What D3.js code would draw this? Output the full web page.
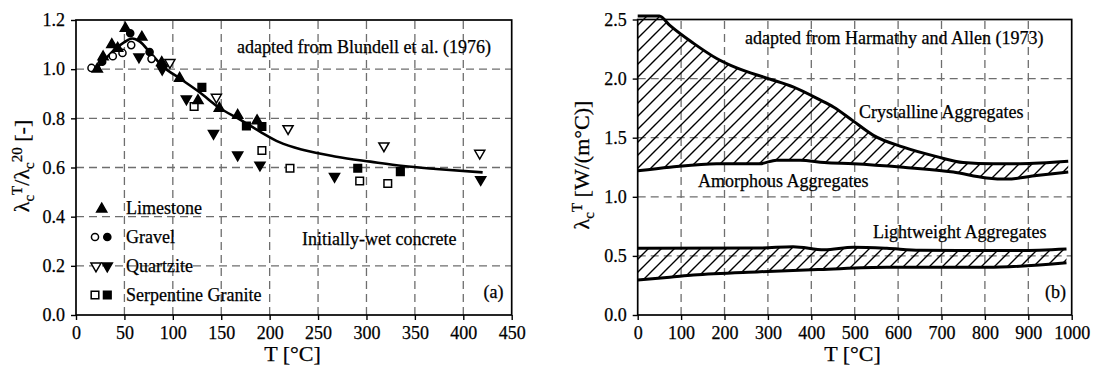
<!DOCTYPE html>
<html><head><meta charset="utf-8">
<script src="https://cdn.jsdelivr.net/npm/d3@7"></script>
<style>
body{margin:0;background:#fff}
svg{display:block;background:#fff}
text{font-family:"Liberation Serif","Times New Roman",serif;fill:#000;stroke:#000;stroke-width:0.25px}
</style></head>
<body><svg id="c" width="1094" height="367"></svg>
<script>
// ---------- Panel (a) data: [T (°C), λcT/λc20] ----------
const limestone = [[22,1.00],[28,1.05],[37,1.10],[43,1.085],[51,1.166],[68,1.13],[88.5,1.027],[107,0.963],[126,0.872],[148,0.841],[167,0.812],[187,0.79]];
const gravelOpen = [[16,1.005],[38,1.053],[48,1.066],[57,1.098],[78,1.042]];
const gravelFilled = [[27,1.03],[56,1.146],[76,1.07]];
const quartziteOpen = [[97,1.027],[145,0.886],[219,0.758],[318,0.688],[417,0.658]];
const quartziteFilled = [[65,1.05],[89,1.0],[114,0.879],[142,0.739],[167,0.651],[190,0.61],[267,0.564],[418,0.551]];
const serpOpen = [[122,0.848],[192,0.669],[221,0.597],[293,0.545],[322,0.535]];
const serpFilled = [[130,0.926],[176,0.769],[192,0.767],[291,0.597],[335,0.583]];
const fitCurve = [[20,1.0],[30,1.04],[40,1.08],[50,1.11],[58,1.125],[66,1.112],[76,1.07],[90,1.01],[107,0.963],[128,0.905],[148,0.843],[169,0.796],[190,0.746],[210,0.703],[235,0.671],[269,0.644],[304,0.624],[338,0.606],[372,0.594],[420,0.58]];
const xTicksA = [0,50,100,150,200,250,300,350,400,450];
const yTicksA = [0.0,0.2,0.4,0.6,0.8,1.0,1.2];
const legendNames = ["Limestone","Gravel","Quartzite","Serpentine Granite"];

// ---------- Panel (b) data: [T (°C), λcT W/(m°C)] ----------
const crystTop = [[0,2.53],[50,2.53],[74,2.45],[128,2.30],[182,2.17],[228,2.09],[301,2.00],[358,1.93],[420,1.82],[451,1.76],[497,1.64],[543,1.52],[612,1.42],[689,1.34],[750,1.29],[819,1.28],[881,1.28],[992,1.30]];
const crystBottom = [[0,1.22],[74,1.25],[182,1.28],[282,1.28],[320,1.31],[374,1.31],[430,1.29],[497,1.28],[612,1.25],[727,1.21],[804,1.16],[850,1.15],[919,1.18],[992,1.21]];
const lightTop = [[0,0.564],[282,0.567],[358,0.578],[430,0.552],[497,0.573],[574,0.564],[650,0.547],[880,0.545],[988,0.558]];
const lightBottom = [[0,0.296],[74,0.319],[128,0.338],[282,0.366],[420,0.385],[574,0.403],[804,0.403],[988,0.442]];
const xTicksB = [0,100,200,300,400,500,600,700,800,900,1000];
const yTicksB = [0.0,0.5,1.0,1.5,2.0,2.5];

const svg = d3.select("#c");
const defs = svg.append("defs");
defs.append("pattern").attr("id","hatch").attr("patternUnits","userSpaceOnUse")
  .attr("width",13).attr("height",13)
  .append("path").attr("d","M-3,3L3,-3M0,13L13,0M10,16L16,10")
  .attr("stroke","#000").attr("stroke-width",1.4).attr("fill","none");

function grid(g, x, y, xt, yt){
  const [x0,x1] = x.domain(), [y0,y1] = y.domain();
  xt.filter(v=>v>x0 && v<x1).forEach(v=>{
    g.append("line").attr("x1",x(v)).attr("x2",x(v)).attr("y1",y(y0)).attr("y2",y(y1))
     .attr("stroke","#6e6e6e").attr("stroke-width",1.3).attr("stroke-dasharray","8,5");
  });
  yt.filter(v=>v>y0 && v<y1).forEach(v=>{
    g.append("line").attr("y1",y(v)).attr("y2",y(v)).attr("x1",x(x0)).attr("x2",x(x1))
     .attr("stroke","#6e6e6e").attr("stroke-width",1.3).attr("stroke-dasharray","8,5");
  });
}
function axes(g, x, y, xt, yt, xMinor, yMinor, xfmt, yfmt){
  const [y0] = y.domain(), [x0] = x.domain();
  const bx = g.append("g").attr("transform",`translate(0,${y(y0)})`);
  bx.call(d3.axisBottom(x).tickValues(xMinor).tickSize(3).tickFormat(""));
  bx.call(d3.axisBottom(x).tickValues(xt).tickSize(5).tickPadding(6).tickFormat(xfmt));
  const ly = g.append("g").attr("transform",`translate(${x(x0)},0)`);
  ly.call(d3.axisLeft(y).tickValues(yMinor).tickSize(3).tickFormat(""));
  ly.call(d3.axisLeft(y).tickValues(yt).tickSize(5).tickPadding(6).tickFormat(yfmt));
  g.selectAll(".domain").remove();
  g.selectAll(".tick line").attr("stroke","#000").attr("stroke-width",1.4);
  g.selectAll(".tick text").style("font-size","18px").style("font-family","Liberation Serif");
}
function frame(g, x, y){
  const [x0,x1]=x.domain(), [y0,y1]=y.domain();
  g.append("rect").attr("x",x(x0)).attr("y",y(y1)).attr("width",x(x1)-x(x0)).attr("height",y(y0)-y(y1))
   .attr("fill","none").attr("stroke","#000").attr("stroke-width",1.7);
}
function txt(g, s, x, y, size, anchor){
  return g.append("text").attr("x",x).attr("y",y).style("font-size",size+"px").attr("text-anchor",anchor||"start").text(s);
}

// ================= Panel (a) =================
const xa = d3.scaleLinear().domain([0,450]).range([76,511.7]);
const ya = d3.scaleLinear().domain([0,1.2]).range([315,20]);
const ga = svg.append("g");
grid(ga, xa, ya, xTicksA, yTicksA);
axes(ga, xa, ya, xTicksA, yTicksA, d3.range(0,451,25), d3.range(0,1.21,0.1), d3.format("d"), d3.format(".1f"));

ga.append("path").datum(fitCurve)
  .attr("d", d3.line().x(d=>xa(d[0])).y(d=>ya(d[1])).curve(d3.curveMonotoneX))
  .attr("fill","none").attr("stroke","#000").attr("stroke-width",2.6);

const triUp = d3.symbol().type(d3.symbolTriangle).size(44)();
const circ = d3.symbol().type(d3.symbolCircle).size(40)();
const sq = d3.symbol().type(d3.symbolSquare).size(58)();
function marks(data, path, filled, rot){
  ga.selectAll(null).data(data).enter().append("path")
    .attr("d", path)
    .attr("transform", d=>`translate(${xa(d[0])},${ya(d[1])})${rot?" rotate(180)":""}`)
    .attr("fill", filled?"#000":"#fff").attr("stroke","#000").attr("stroke-width",1.5);
}
marks(serpOpen, sq, false); marks(serpFilled, sq, true);
marks(quartziteOpen, triUp, false, true); marks(quartziteFilled, triUp, true, true);
marks(gravelOpen, circ, false); marks(gravelFilled, circ, true);
marks(limestone, triUp, true);
frame(ga, xa, ya);

// legend
const legY = [214, 243, 272, 301];
function legSym(path, x, y, filled, rot){
  ga.append("path").attr("d",path).attr("transform",`translate(${x},${y})${rot?" rotate(180)":""}`)
    .attr("fill",filled?"#000":"#fff").attr("stroke","#000").attr("stroke-width",1.5);
}
legSym(triUp, 101.7, legY[0]-5, true);
legSym(circ, 95, legY[1]-6, false); legSym(circ, 107.3, legY[1]-6, true);
legSym(triUp, 96, legY[2]-6, false, true); legSym(triUp, 107.3, legY[2]-6, true, true);
legSym(sq, 95, legY[3]-6, false); legSym(sq, 107.3, legY[3]-6, true);
legendNames.forEach((n,i)=>txt(ga, n, 126, legY[i], 18));

txt(ga, "adapted from Blundell et al. (1976)", 237, 53, 18);
txt(ga, "Initially-wet concrete", 302, 245, 18);
txt(ga, "(a)", 503.5, 298, 18, "end");
txt(ga, "T [°C]", 292.5, 361, 22, "middle");
const yla = ga.append("text").attr("transform","translate(29,166) rotate(-90)")
  .attr("text-anchor","middle").style("font-size","22px");
yla.append("tspan").text("λ");
yla.append("tspan").attr("dy",5).style("font-size","15px").text("c");
yla.append("tspan").attr("dy",-12).style("font-size","15px").text("T");
yla.append("tspan").attr("dy",7).text("/λ");
yla.append("tspan").attr("dy",5).style("font-size","15px").text("c");
yla.append("tspan").attr("dy",-12).style("font-size","15px").text("20");
yla.append("tspan").attr("dy",7).text(" [-]");

// ================= Panel (b) =================
const xb = d3.scaleLinear().domain([0,1000]).range([637.7,1071.7]);
const yb = d3.scaleLinear().domain([0,2.5]).range([315,19.5]);
const gb = svg.append("g");
grid(gb, xb, yb, xTicksB, yTicksB);
axes(gb, xb, yb, xTicksB, yTicksB, d3.range(0,1001,50), d3.range(0,2.51,0.25), d3.format("d"), d3.format(".1f"));

const lb = d3.line().x(d=>xb(d[0])).y(d=>yb(d[1])).curve(d3.curveMonotoneX);
function band(top, bottom){
  const rev = bottom.slice().reverse();
  const d = lb(top) + lb(rev).replace(/^M/,"L") + "Z";
  gb.append("path").attr("d",d).attr("fill","url(#hatch)").attr("stroke","none");
  [top,bottom].forEach(s=>gb.append("path").datum(s).attr("d",lb)
    .attr("fill","none").attr("stroke","#000").attr("stroke-width",3));
}
frame(gb, xb, yb);
band(crystTop, crystBottom);
band(lightTop, lightBottom);

txt(gb, "adapted from Harmathy and Allen (1973)", 745, 44, 18);
txt(gb, "Crystalline Aggregates", 859, 118, 18);
txt(gb, "Amorphous Aggregates", 698, 187, 18);
txt(gb, "Lightweight Aggregates", 873, 238, 18);
txt(gb, "(b)", 1066, 298, 18, "end");
txt(gb, "T [°C]", 852.5, 361, 22, "middle");
const ylb = gb.append("text").attr("transform","translate(589,165) rotate(-90)")
  .attr("text-anchor","middle").style("font-size","22px");
ylb.append("tspan").text("λ");
ylb.append("tspan").attr("dy",5).style("font-size","15px").text("c");
ylb.append("tspan").attr("dy",-12).style("font-size","15px").text("T");
ylb.append("tspan").attr("dy",7).text(" [W/(m°C)]");
</script></body></html>
